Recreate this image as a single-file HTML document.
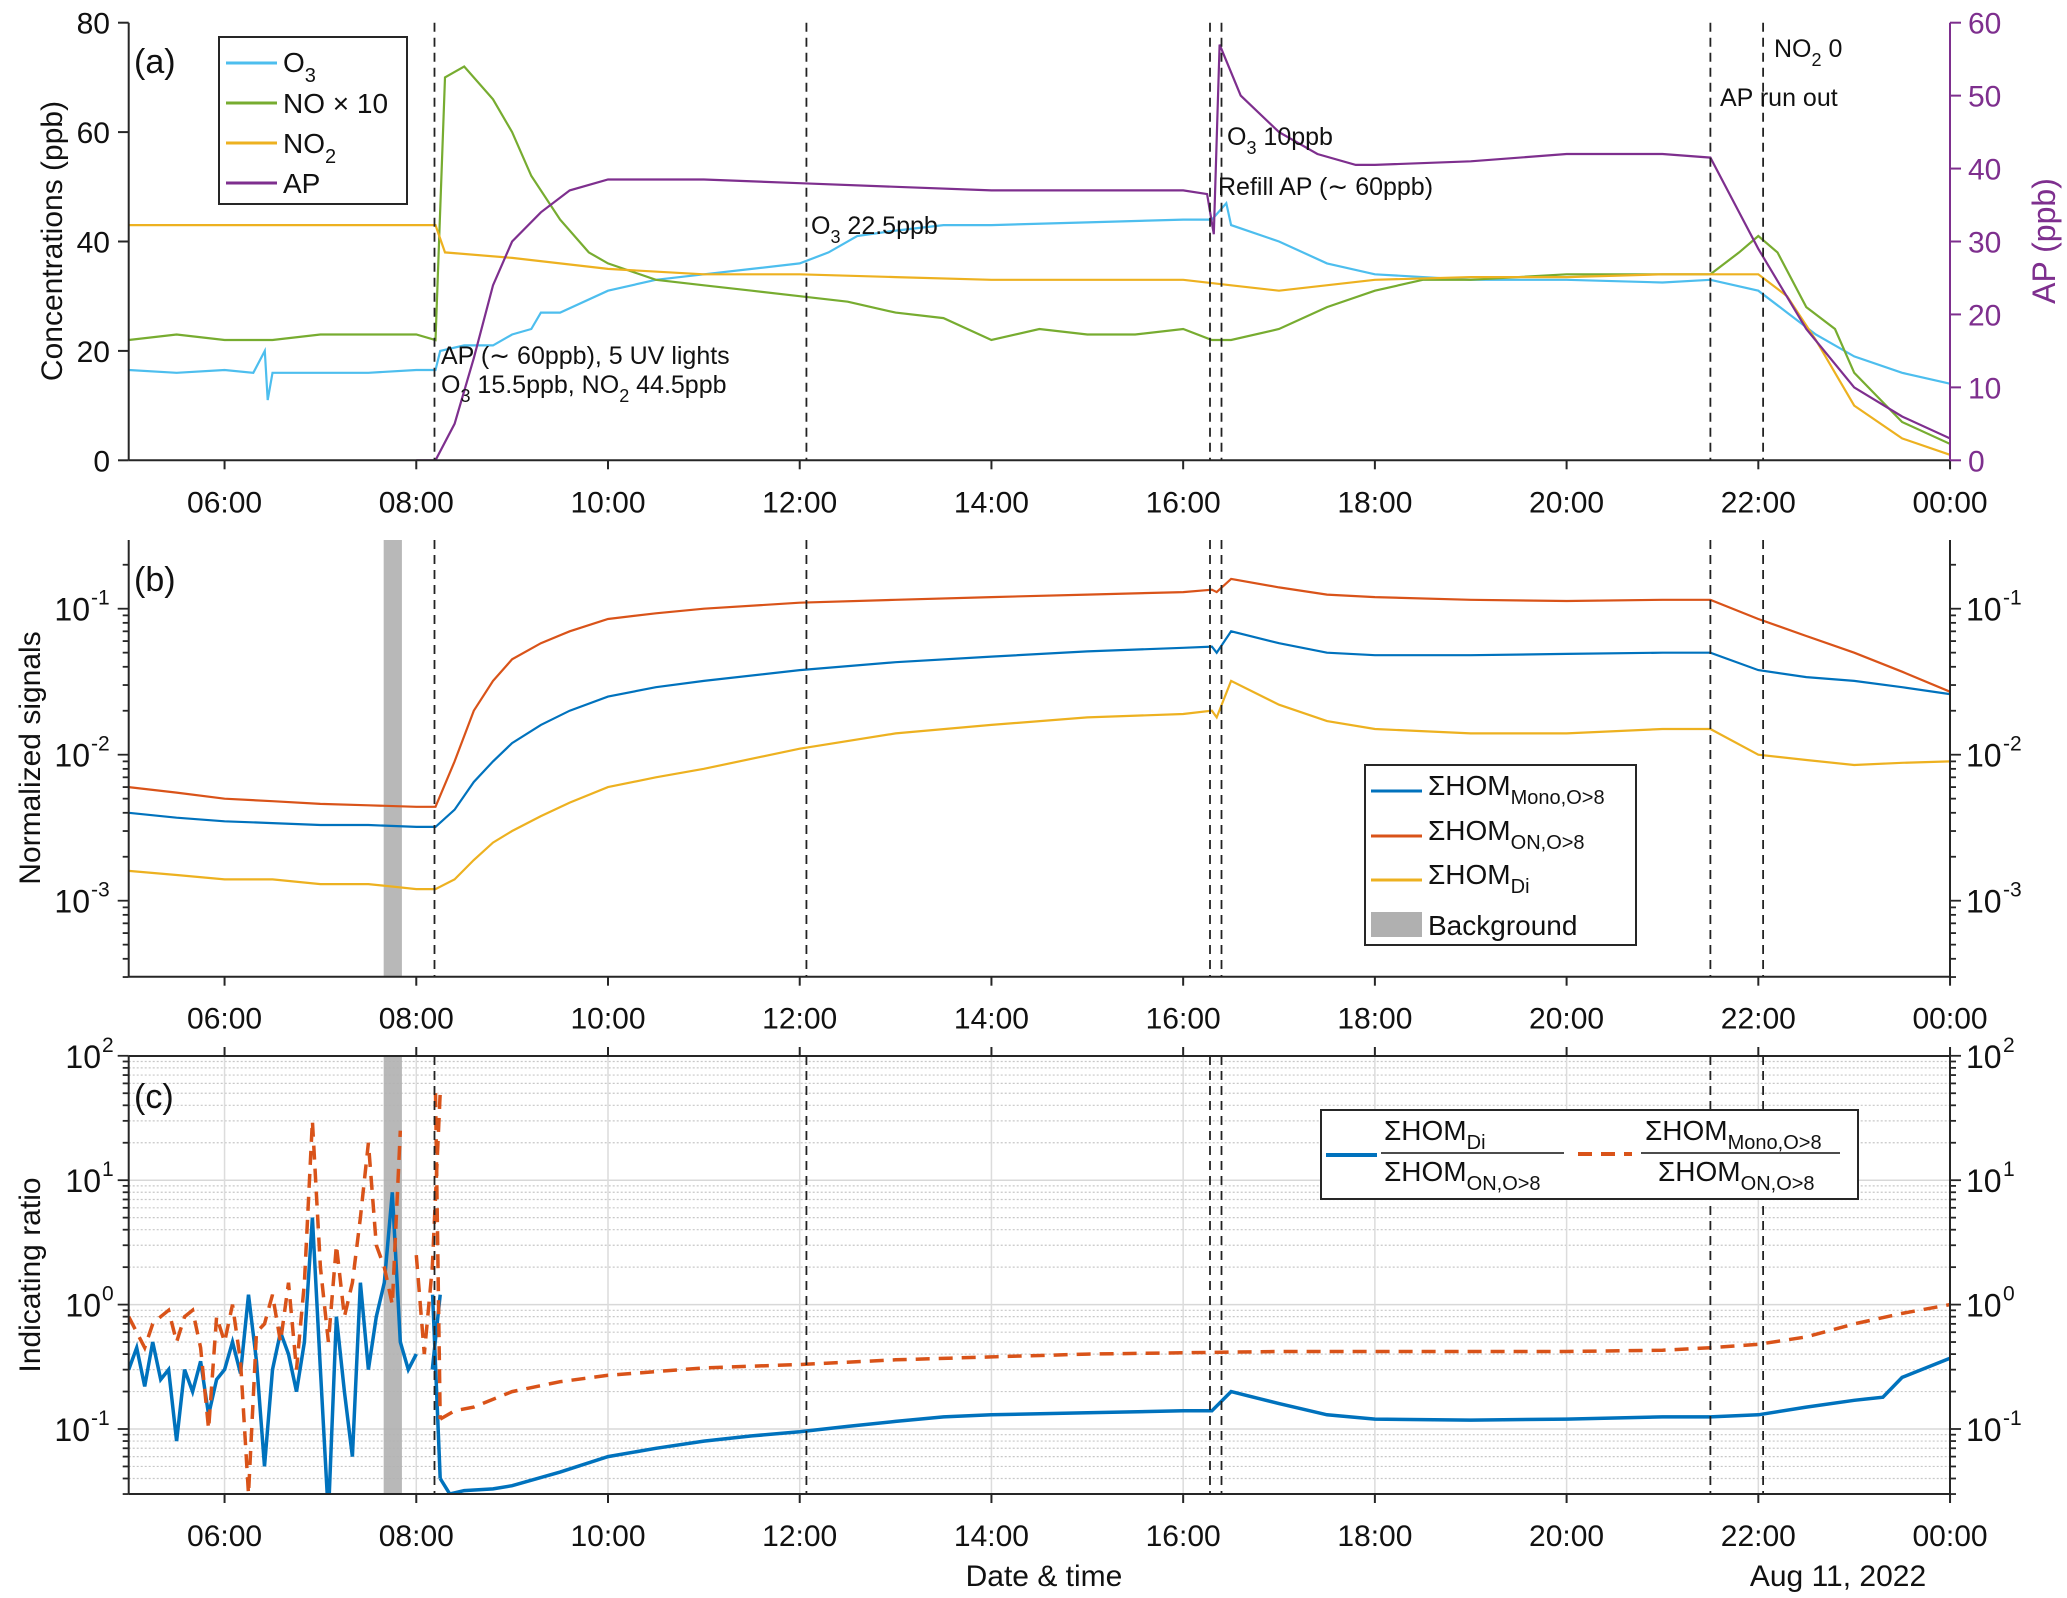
<!DOCTYPE html>
<html><head><meta charset="utf-8"><style>
body{margin:0;background:#fff}
svg{display:block;font-family:"Liberation Sans",Arial,sans-serif}
</style></head><body>
<svg id="chart" width="2067" height="1598" viewBox="0 0 2067 1598" xmlns="http://www.w3.org/2000/svg">
<defs>
<clipPath id="clipA"><rect x="128.7" y="22.7" width="1821.3" height="437.6"/></clipPath>
<clipPath id="clipB"><rect x="128.7" y="540" width="1821.3" height="436.7"/></clipPath>
<clipPath id="clipC"><rect x="128.7" y="1056" width="1821.3" height="438"/></clipPath>
</defs>
<g id="root"></g>
</svg>
<script>
// ---------- data ----------
const tickHours=[6,8,10,12,14,16,18,20,22,24];
const tickLabels=["06:00","08:00","10:00","12:00","14:00","16:00","18:00","20:00","22:00","00:00"];
const eventTimes=[8.19,12.07,16.28,16.4,21.5,22.05];
const bgStart=7.66, bgEnd=7.85;

const o3T=[5,5.5,6,6.3,6.42,6.45,6.5,7,7.5,8,8.2,8.25,8.5,8.8,9.0,9.2,9.3,9.5,10,10.5,11,11.5,12,12.3,12.6,13,13.5,14,15,16,16.3,16.45,16.5,17,17.5,18,19,20,21,21.5,22,22.3,22.6,23,23.5,24];
const o3V=[16.5,16,16.5,16,20,11,16,16,16,16.5,16.5,20,21,21,23,24,27,27,31,33,34,35,36,38,41,42,43,43,43.5,44,44,47,43,40,36,34,33,33,32.5,33,31,27,23,19,16,14];
const noT=[5,5.5,6,6.5,7,7.5,8,8.2,8.3,8.4,8.5,8.8,9.0,9.2,9.5,9.8,10,10.5,11,11.5,12,12.5,13,13.5,14,14.5,15,15.5,16,16.3,16.5,17,17.5,18,18.5,19,20,21,21.5,21.8,22,22.2,22.5,22.8,23,23.5,24];
const noV=[22,23,22,22,23,23,23,22,70,71,72,66,60,52,44,38,36,33,32,31,30,29,27,26,22,24,23,23,24,22,22,24,28,31,33,33,34,34,34,38,41,38,28,24,16,7,3];
const no2T=[5,6,7,8,8.2,8.3,9,10,11,12,13,14,15,16,16.5,17,18,19,20,21,21.5,22,22.3,22.6,23,23.5,24];
const no2V=[43,43,43,43,43,38,37,35,34,34,33.5,33,33,33,32,31,33,33.5,33.5,34,34,34,30,22,10,4,1];
const apT=[8,8.2,8.4,8.6,8.8,9,9.3,9.6,10,11,12,13,14,15,16,16.25,16.32,16.38,16.6,17,17.4,17.8,18,19,20,21,21.5,21.8,22,22.5,23,23.5,24];
const apV=[0,0,5,14,24,30,34,37,38.5,38.5,38,37.5,37,37,37,36.5,31,57,50,45,42,40.5,40.5,41,42,42,41.5,34,29,18,10,6,3];

const bT=[5,5.5,6,6.5,7,7.5,8,8.2,8.4,8.6,8.8,9,9.3,9.6,10,10.5,11,12,13,14,15,16,16.3,16.35,16.5,17,17.5,18,19,20,21,21.5,22,22.5,23,23.5,24];
const monoV=[0.004,0.0037,0.0035,0.0034,0.0033,0.0033,0.0032,0.0032,0.0042,0.0065,0.009,0.012,0.016,0.02,0.025,0.029,0.032,0.038,0.043,0.047,0.051,0.054,0.055,0.05,0.07,0.058,0.05,0.048,0.048,0.049,0.05,0.05,0.038,0.034,0.032,0.029,0.026];
const onV=[0.006,0.0055,0.005,0.0048,0.0046,0.0045,0.0044,0.0044,0.009,0.02,0.032,0.045,0.058,0.07,0.085,0.093,0.1,0.11,0.115,0.12,0.125,0.13,0.135,0.13,0.16,0.14,0.125,0.12,0.115,0.113,0.115,0.115,0.085,0.065,0.05,0.037,0.027];
const diV=[0.0016,0.0015,0.0014,0.0014,0.0013,0.0013,0.0012,0.0012,0.0014,0.0019,0.0025,0.003,0.0038,0.0047,0.006,0.007,0.008,0.011,0.014,0.016,0.018,0.019,0.02,0.018,0.032,0.022,0.017,0.015,0.014,0.014,0.015,0.015,0.01,0.0092,0.0085,0.0088,0.009];

const cStart=5, cStep=1/12;
const diNoise=[0.3,0.45,0.22,0.5,0.25,0.3,0.08,0.3,0.2,0.35,0.13,0.25,0.3,0.5,0.28,1.2,0.35,0.05,0.3,0.6,0.4,0.2,0.5,5,0.3,0.02,0.8,0.2,0.06,1.5,0.3,0.8,1.5,8,0.5,0.3,0.4,null,0.3,1.2];
const monoNoise=[0.8,0.6,0.45,0.7,0.8,0.9,0.5,0.8,0.9,0.45,0.1,0.8,0.5,1.0,0.35,0.03,0.6,0.7,1.2,0.5,1.5,0.3,1.5,30,2,0.5,3,0.8,1.5,5,20,3,2,1,25,null,2.5,0.4,2,50];
const diT=[8.25,8.35,8.5,8.8,9,9.5,10,10.5,11,11.5,12,12.5,13,13.5,14,15,16,16.3,16.5,17,17.5,18,19,20,21,21.5,22,22.5,23,23.3,23.5,24];
const diR=[0.04,0.03,0.032,0.033,0.035,0.045,0.06,0.07,0.08,0.088,0.095,0.105,0.115,0.125,0.13,0.135,0.14,0.14,0.2,0.16,0.13,0.12,0.118,0.12,0.125,0.125,0.13,0.15,0.17,0.18,0.26,0.37];
const monoT=[8.25,8.4,8.6,9,9.5,10,11,12,13,14,15,16,17,18,19,20,21,21.5,22,22.5,23,23.5,24];
const monoR=[0.12,0.14,0.15,0.2,0.24,0.27,0.31,0.33,0.36,0.38,0.4,0.41,0.42,0.42,0.42,0.42,0.43,0.45,0.48,0.55,0.7,0.85,1.0];

// ---------- scales ----------
const X=t=>128.7+(t-5)*95.86;
const Ya=v=>460.3-v*437.6/80;
const Yap=v=>460.3-v*437.6/60;
const Yb=v=>608.7-(Math.log10(v)+1)*146;
const Yc=v=>1429-(Math.log10(v)+1)*124.4;

const NS="http://www.w3.org/2000/svg";
const root=document.getElementById('root');
function el(tag,attrs,parent){const e=document.createElementNS(NS,tag);for(const k in attrs)e.setAttribute(k,attrs[k]);(parent||root).appendChild(e);return e;}
function txt(x,y,s,size,anchor,fill,parent){const e=el('text',{x:x,y:y,'font-size':size,'text-anchor':anchor||'start',fill:fill||'#000'},parent);e.textContent=s;return e;}
function pts(ts,vs,fy){return ts.map((t,i)=>X(t).toFixed(1)+','+fy(vs[i]).toFixed(1)).join(' ');}
function segs(ts,vs,fy){const out=[];let cur=[];ts.forEach((t,i)=>{if(vs[i]==null){if(cur.length)out.push(cur);cur=[];}else cur.push(X(t).toFixed(1)+','+fy(vs[i]).toFixed(1));});if(cur.length)out.push(cur);return out.map(c=>c.join(' '));}

const panels=[{top:22.7,bot:460.3},{top:540,bot:976.7},{top:1056,bot:1494}];

// panel c grid
{
 const g=el('g',{});
 
 
 for(let d=-2;d<=1;d++)for(let m=1;m<=9;m++){const v=m*Math.pow(10,d);const y=Yc(v);if(y<1056||y>1494)continue;
  el('line',{x1:128.7,x2:1950,y1:y,y2:y,stroke:m==1?'#d8d8d8':'#c8c8c8','stroke-width':m==1?1.5:1.2,'stroke-dasharray':m==1?'':'2 2'},g);}
 tickHours.forEach(h=>el('line',{x1:X(h),x2:X(h),y1:1056,y2:1494,stroke:'#dcdcdc','stroke-width':1.5},g));
}
// background bands
[1,2].forEach(i=>{const p=panels[i];const r=el('rect',{x:X(bgStart),y:p.top,width:X(bgEnd)-X(bgStart),height:p.bot-p.top,fill:'#b0b0b0',opacity:0.9});
 });

// panel a series
const lineA=[[o3T,o3V,Ya,'#4DBEEE','o3-line'],[noT,noV,Ya,'#77AC30','no-line'],[no2T,no2V,Ya,'#EDB120','no2-line'],[apT,apV,Yap,'#7E2F8E','ap-line']];
lineA.forEach(s=>{const p=el('polyline',{points:pts(s[0],s[1],s[2]),fill:'none',stroke:s[3],'stroke-width':2.2,'clip-path':'url(#clipA)'});
 });
// panel b series
[[monoV,'#0072BD','mono-signal-line'],[onV,'#D95319','on-signal-line'],[diV,'#EDB120','di-signal-line']].forEach(s=>{
 const p=el('polyline',{points:pts(bT,s[0],Yb),fill:'none',stroke:s[1],'stroke-width':2.2,'clip-path':'url(#clipB)'});
 });
// panel c series
const nT=diNoise.map((_,i)=>cStart+i*cStep);
segs(nT,diNoise,Yc).concat([pts(diT,diR,Yc)]).forEach(s=>{const p=el('polyline',{points:s,fill:'none',stroke:'#0072BD','stroke-width':3.5,'clip-path':'url(#clipC)'});
 });
segs(nT,monoNoise,Yc).concat([pts(monoT,monoR,Yc)]).forEach(s=>{const p=el('polyline',{points:s,fill:'none',stroke:'#D95319','stroke-width':3.5,'stroke-dasharray':'14 9','clip-path':'url(#clipC)'});
 });
{const p=el('polyline',{points:pts([8.17,8.25],[1.2,0.04],Yc),fill:'none',stroke:'#0072BD','stroke-width':3.5,'clip-path':'url(#clipC)'});}
{const p=el('polyline',{points:pts([8.2,8.25],[50,0.12],Yc),fill:'none',stroke:'#D95319','stroke-width':3.5,'stroke-dasharray':'14 9','clip-path':'url(#clipC)'});}

// event lines
panels.forEach(p=>eventTimes.forEach(t=>{const l=el('line',{x1:X(t),x2:X(t),y1:p.top,y2:p.bot,stroke:'#222','stroke-width':1.8,'stroke-dasharray':'9 6'});
 }));

// axes
panels.forEach((p,i)=>{
 const g=el('g',{});
 
 
 el('line',{x1:128.7,x2:1950,y1:p.bot,y2:p.bot,stroke:'#262626','stroke-width':2},g);
 el('line',{x1:128.7,x2:128.7,y1:p.top,y2:p.bot,stroke:'#262626','stroke-width':2},g);
 el('line',{x1:1950,x2:1950,y1:p.top,y2:p.bot,stroke:i==0?'#7E2F8E':'#262626','stroke-width':2},g);
 if(i==2)el('line',{x1:128.7,x2:1950,y1:p.top,y2:p.top,stroke:'#262626','stroke-width':2},g);
 tickHours.forEach((h,k)=>{el('line',{x1:X(h),x2:X(h),y1:p.bot,y2:p.bot+9,stroke:'#262626','stroke-width':2},g);
  if(i==2)el('line',{x1:X(h),x2:X(h),y1:p.top,y2:p.top-9,stroke:'#262626','stroke-width':2},g);
  txt(X(h),p.bot+52,tickLabels[k],30,'middle','#111',g);});
});
// panel a y ticks
[0,20,40,60,80].forEach(v=>{el('line',{x1:118,x2:128.7,y1:Ya(v),y2:Ya(v),stroke:'#262626','stroke-width':2});txt(110,Ya(v)+11,String(v),30,'end','#111');});
[0,10,20,30,40,50,60].forEach(v=>{el('line',{x1:1950,x2:1961,y1:Yap(v),y2:Yap(v),stroke:'#7E2F8E','stroke-width':2});txt(1968,Yap(v)+11,String(v),30,'start','#7E2F8E');});
// log ticks
function logTicks(fy,top,bot,decs,labels){
 decs.forEach(d=>{for(let m=1;m<=9;m++){const y=fy(m*Math.pow(10,d));if(y<top-0.5||y>bot+0.5)continue;const L=m==1?11:6;
  el('line',{x1:128.7-L,x2:128.7,y1:y,y2:y,stroke:'#262626','stroke-width':1.8});el('line',{x1:1950,x2:1950+L,y1:y,y2:y,stroke:'#262626','stroke-width':1.8});}});
 labels.forEach(d=>{const y=fy(Math.pow(10,d));
  const s=String(d);
  const supW=s.length*11;
  const t1=el('text',{x:112-supW,y:y+12,'font-size':32,'text-anchor':'end',fill:'#111'});t1.textContent='10';
  const s1=el('text',{x:112-supW+1,y:y-4,'font-size':21,'text-anchor':'start',fill:'#111'});s1.textContent=s;
  const t2=el('text',{x:1966,y:y+12,'font-size':32,'text-anchor':'start',fill:'#111'});t2.textContent='10';
  const s2=el('text',{x:2003,y:y-4,'font-size':21,'text-anchor':'start',fill:'#111'});s2.textContent=s;
 });
}
logTicks(Yb,540,976.7,[-4,-3,-2,-1],[-3,-2,-1]);
logTicks(Yc,1056,1494,[-2,-1,0,1,2],[-1,0,1,2]);

// axis titles & labels
(function(){
function T(x,y,s,size,opts){const e=document.createElementNS(NS,'text');e.setAttribute('x',x);e.setAttribute('y',y);e.setAttribute('font-size',size);for(const k in (opts||{}))e.setAttribute(k,opts[k]);e.textContent=s;root.appendChild(e);return e;}
let e;
e=T(0,0,'Concentrations (ppb)',30,{transform:'translate(62,241) rotate(-90)','text-anchor':'middle',fill:'#111'});
e=T(0,0,'Normalized signals',30,{transform:'translate(40,758) rotate(-90)','text-anchor':'middle',fill:'#111'});
e=T(0,0,'Indicating ratio',30,{transform:'translate(40,1275) rotate(-90)','text-anchor':'middle',fill:'#111'});
e=T(0,0,'AP (ppb)',32,{transform:'translate(2055,241) rotate(-90)','text-anchor':'middle',fill:'#7E2F8E'});
e=T(1044,1586,'Date & time',30,{'text-anchor':'middle',fill:'#111'});
e=T(1838,1586,'Aug 11, 2022',30,{'text-anchor':'middle',fill:'#111'});
e=T(134,73,'(a)',34,{fill:'#111'});
e=T(134,591,'(b)',34,{fill:'#111'});
e=T(134,1108,'(c)',34,{fill:'#111'});
})();
</script>
<script>
(function(){
const svg=document.getElementById('chart');
const NS="http://www.w3.org/2000/svg";
function add(html){const g=document.createElementNS(NS,'g');g.innerHTML=html;svg.appendChild(g);return g;}
let g=add(`<rect x="219" y="37" width="188" height="167" fill="#fff" stroke="#262626" stroke-width="2"/>
<line x1="226" x2="277" y1="63" y2="63" stroke="#4DBEEE" stroke-width="3"/>
<line x1="226" x2="277" y1="103" y2="103" stroke="#77AC30" stroke-width="3"/>
<line x1="226" x2="277" y1="143" y2="143" stroke="#EDB120" stroke-width="3"/>
<line x1="226" x2="277" y1="183" y2="183" stroke="#7E2F8E" stroke-width="3"/>
<text x="283" y="72" font-size="28" fill="#111">O<tspan dy="10" font-size="20">3</tspan></text>
<text x="283" y="113" font-size="28" fill="#111">NO × 10</text>
<text x="283" y="153" font-size="28" fill="#111">NO<tspan dy="10" font-size="20">2</tspan></text>
<text x="283" y="193" font-size="28" fill="#111">AP</text>`);

g=add(`<text x="441" y="364" font-size="25" fill="#111">AP (∼ 60ppb), 5 UV lights</text>
<text x="441" y="393" font-size="25" fill="#111">O<tspan dy="9" font-size="18">3</tspan><tspan dy="-9"> 15.5ppb, NO</tspan><tspan dy="9" font-size="18">2</tspan><tspan dy="-9"> 44.5ppb</tspan></text>
<text x="811" y="234" font-size="25" fill="#111">O<tspan dy="9" font-size="18">3</tspan><tspan dy="-9"> 22.5ppb</tspan></text>
<text x="1227" y="145" font-size="25" fill="#111">O<tspan dy="9" font-size="18">3</tspan><tspan dy="-9"> 10ppb</tspan></text>
<text x="1218" y="195" font-size="25" fill="#111">Refill AP (∼ 60ppb)</text>
<text x="1720" y="106" font-size="25" fill="#111">AP run out</text>
<text x="1774" y="57" font-size="25" fill="#111">NO<tspan dy="9" font-size="18">2</tspan><tspan dy="-9"> 0</tspan></text>`);

g=add(`<rect x="1365" y="765" width="271" height="180" fill="#fff" stroke="#262626" stroke-width="2"/>
<line x1="1371" x2="1422" y1="791" y2="791" stroke="#0072BD" stroke-width="3"/>
<line x1="1371" x2="1422" y1="836" y2="836" stroke="#D95319" stroke-width="3"/>
<line x1="1371" x2="1422" y1="880" y2="880" stroke="#EDB120" stroke-width="3"/>
<rect x="1371" y="912" width="51" height="25" fill="#b0b0b0"/>
<text x="1428" y="795" font-size="28" fill="#111">ΣHOM<tspan dy="9" font-size="20">Mono,O&gt;8</tspan></text>
<text x="1428" y="840" font-size="28" fill="#111">ΣHOM<tspan dy="9" font-size="20">ON,O&gt;8</tspan></text>
<text x="1428" y="884" font-size="28" fill="#111">ΣHOM<tspan dy="9" font-size="20">Di</tspan></text>
<text x="1428" y="935" font-size="28" fill="#111">Background</text>`);

g=add(`<rect x="1321" y="1110" width="537" height="89" fill="#fff" stroke="#262626" stroke-width="2"/>
<line x1="1326" x2="1377" y1="1155" y2="1155" stroke="#0072BD" stroke-width="4"/>
<text x="1384" y="1140" font-size="28" fill="#111">ΣHOM<tspan dy="9" font-size="20">Di</tspan></text>
<line x1="1381" x2="1564" y1="1153" y2="1153" stroke="#111" stroke-width="1.5"/>
<text x="1384" y="1181" font-size="28" fill="#111">ΣHOM<tspan dy="9" font-size="20">ON,O&gt;8</tspan></text>
<line x1="1578" x2="1632" y1="1154" y2="1154" stroke="#D95319" stroke-width="4" stroke-dasharray="14 9"/>
<text x="1645" y="1140" font-size="28" fill="#111">ΣHOM<tspan dy="9" font-size="20">Mono,O&gt;8</tspan></text>
<line x1="1641" x2="1840" y1="1153" y2="1153" stroke="#111" stroke-width="1.5"/>
<text x="1658" y="1181" font-size="28" fill="#111">ΣHOM<tspan dy="9" font-size="20">ON,O&gt;8</tspan></text>`);

})();
</script>
</body></html>
